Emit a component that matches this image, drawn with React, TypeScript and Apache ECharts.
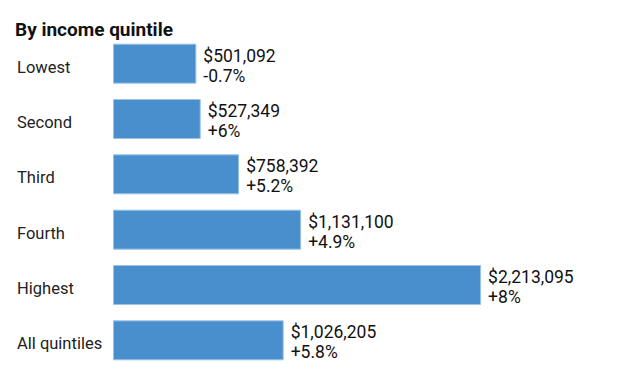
import React, { useEffect, useRef } from "react";
import * as echarts from "echarts";

const categories = ["Lowest", "Second", "Third", "Fourth", "Highest", "All quintiles"];
const values = [501092, 527349, 758392, 1131100, 2213095, 1026205];
const changes = ["-0.7%", "+6%", "+5.2%", "+4.9%", "+8%", "+5.8%"];
const title = "By income quintile";

const FONT = "Roboto, 'Liberation Sans', sans-serif";

export default function App() {
  const ref = useRef<HTMLDivElement>(null);
  useEffect(() => {
    document.body.style.margin = "0";
    const chart = echarts.init(ref.current!, null, { renderer: "svg" });
    chart.setOption({
      animation: false,
      backgroundColor: "#ffffff",
      title: {
        text: title,
        left: 10,
        top: 15,
        textStyle: { fontFamily: FONT, fontSize: 19, fontWeight: "bold", color: "#111111" },
      },
      grid: { left: 113, top: 36, width: 499, height: 332 },
      xAxis: {
        type: "value",
        min: 0,
        max: 3000000,
        show: false,
        splitLine: { show: false },
      },
      yAxis: {
        type: "category",
        data: categories,
        inverse: true,
        axisLine: { show: false },
        axisTick: { show: false },
        axisLabel: {
          align: "left",
          verticalAlign: "top",
          lineHeight: 7,
          margin: 96,
          fontFamily: FONT,
          fontSize: 16.5,
          color: "#222222",
        },
      },
      series: [
        {
          type: "bar",
          data: values,
          barWidth: 40,
          itemStyle: { color: "#4a8fcd", borderColor: "#9cc3e6", borderWidth: 1 },
          label: {
            show: true,
            position: "right",
            distance: 7,
            offset: [0, 2],
            fontFamily: FONT,
            fontSize: 17.5,
            lineHeight: 20,
            color: "#111111",
            formatter: (p: any) =>
              "$" + Number(p.value).toLocaleString("en-US") + "\n" + changes[p.dataIndex],
          },
        },
      ],
    });
    return () => chart.dispose();
  }, []);
  return <div ref={ref} style={{ width: 640, height: 374 }} />;
}
